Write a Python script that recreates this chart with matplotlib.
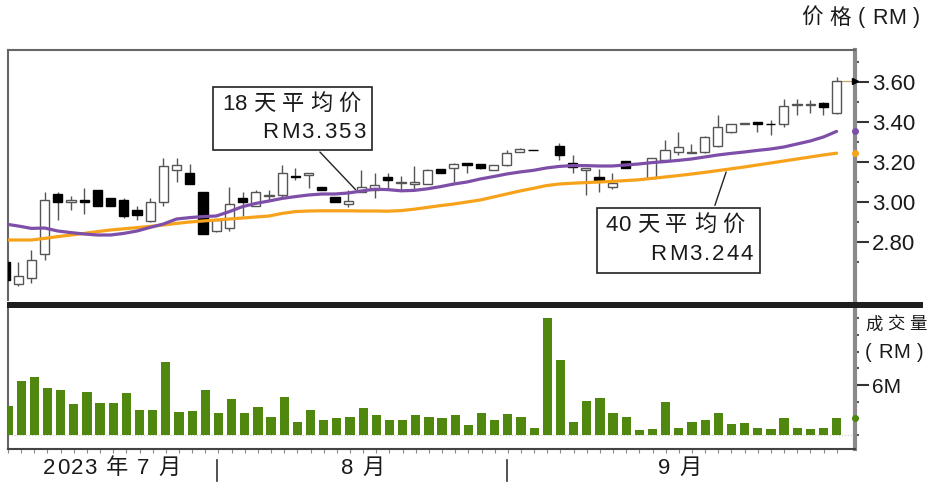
import matplotlib
matplotlib.use('Agg')
import matplotlib.pyplot as plt
import numpy as np
from matplotlib.patches import Rectangle
import matplotlib.transforms as mtransforms

plt.rcParams['font.family'] = ['Liberation Sans', 'Noto Sans CJK SC', 'DejaVu Sans']

nan = float('nan')
# ---------------- data ----------------
opens = [2.70, 2.59, 2.62, 2.74, 3.04, 3.00, 3.01, 3.06, 3.02, 3.01,
         2.96, 2.905, 3.00, 3.16, 3.145, 3.05, 2.855, 2.87, 3.02, 2.98,
         3.03, 3.035, 3.13, 3.135, 3.075, 3.025, 2.99, 3.05, 3.06, 3.125,
         3.095, 3.09, 3.09, 3.165, 3.17, 3.195, 3.19, 3.16, 3.185, 3.25,
         3.262, nan, 3.28, 3.193, 3.16, 3.127, 3.073, 3.207, nan, 3.12,
         3.21, 3.25, 3.245, 3.25, 3.28, 3.35, 3.39, 3.40, 3.392, 3.39,
         3.485, 3.485, 3.495, 3.445]
highs = [2.71, 2.70, 2.76, 3.05, 3.05, 3.03, 3.07, 3.06, 3.02, 3.02,
         2.98, 3.02, 3.22, 3.22, 3.19, 3.05, 2.91, 3.075, 3.05, 3.06,
         3.06, 3.185, 3.17, 3.145, 3.075, 3.025, 3.06, 3.16, 3.145, 3.145,
         3.13, 3.18, 3.165, 3.165, 3.195, 3.195, 3.19, 3.185, 3.26, 3.27,
         3.262, nan, 3.297, 3.235, 3.168, 3.163, 3.143, 3.207, nan, 3.22,
         3.31, 3.35, 3.29, 3.33, 3.435, 3.39, 3.395, 3.40, 3.41, 3.515,
         3.515, 3.51, 3.50, 3.625]
lows = [2.60, 2.58, 2.595, 2.71, 2.91, 2.96, 2.94, 2.98, 2.98, 2.92,
        2.91, 2.90, 2.98, 3.10, 3.09, 2.84, 2.85, 2.855, 2.93, 2.98,
        3.01, 3.025, 3.11, 3.07, 3.06, 3.00, 2.975, 3.05, 3.02, 3.06,
        3.06, 3.06, 3.09, 3.145, 3.10, 3.145, 3.165, 3.16, 3.18, 3.25,
        3.258, nan, 3.21, 3.143, 3.035, 3.05, 3.063, 3.168, nan, 3.12,
        3.21, 3.235, 3.245, 3.245, 3.275, 3.345, 3.39, 3.35, 3.335, 3.375,
        3.435, 3.445, 3.435, 3.44]
closes = [2.61, 2.63, 2.71, 3.01, 3.00, 3.01, 3.00, 2.98, 2.98, 2.93,
          2.935, 3.00, 3.18, 3.185, 3.09, 2.84, 2.91, 2.99, 3.00, 3.05,
          3.035, 3.145, 3.125, 3.145, 3.06, 3.00, 3.005, 3.075, 3.085, 3.11,
          3.10, 3.10, 3.16, 3.145, 3.19, 3.185, 3.17, 3.185, 3.245, 3.265,
          3.258, nan, 3.235, 3.173, 3.168, 3.107, 3.097, 3.168, nan, 3.22,
          3.26, 3.275, 3.25, 3.325, 3.375, 3.39, 3.395, 3.39, 3.388, 3.48,
          3.49, 3.49, 3.475, 3.605]
ma18 = [2.89, 2.88, 2.868, 2.87, 2.855, 2.847, 2.84, 2.835, 2.835, 2.843,
        2.855, 2.873, 2.89, 2.915, 2.922, 2.927, 2.93, 2.952, 2.977, 2.993,
        3.005, 3.018, 3.027, 3.035, 3.04, 3.04, 3.045, 3.055, 3.064, 3.062,
        3.056, 3.058, 3.066, 3.077, 3.09, 3.10, 3.115, 3.127, 3.14, 3.15,
        3.158, 3.17, 3.178, 3.182, 3.182, 3.18, 3.18, 3.185, 3.19, 3.197,
        3.202, 3.208, 3.215, 3.225, 3.235, 3.243, 3.25, 3.258, 3.265, 3.275,
        3.29, 3.305, 3.325, 3.353]
ma40 = [2.81, 2.81, 2.81, 2.818, 2.827, 2.835, 2.843, 2.852, 2.86, 2.866,
        2.872, 2.878, 2.885, 2.893, 2.90, 2.905, 2.91, 2.915, 2.92, 2.925,
        2.93, 2.943, 2.952, 2.955, 2.956, 2.956, 2.956, 2.955, 2.955, 2.954,
        2.957, 2.964, 2.973, 2.982, 2.99, 3.00, 3.01, 3.025, 3.04, 3.055,
        3.068, 3.082, 3.09, 3.094, 3.097, 3.10, 3.103, 3.107, 3.111, 3.118,
        3.125, 3.132, 3.14, 3.148, 3.157, 3.166, 3.175, 3.185, 3.195, 3.205,
        3.215, 3.225, 3.235, 3.244]
volume_m = [3.5, 6.5, 7.0, 5.7, 5.4, 3.7, 5.2, 3.9, 3.9, 5.0,
            3.0, 3.0, 8.8, 2.8, 2.9, 5.4, 2.6, 4.3, 2.6, 3.4,
            2.2, 4.6, 1.6, 3.0, 1.8, 2.0, 2.2, 3.2, 2.4, 1.8,
            1.8, 2.4, 2.2, 2.1, 2.4, 1.2, 2.6, 1.8, 2.5, 2.2,
            0.9, 14.0, 9.0, 1.6, 4.1, 4.4, 2.6, 2.2, 0.6, 0.7,
            4.0, 0.9, 1.6, 1.8, 2.6, 1.3, 1.4, 0.9, 0.7, 2.0,
            0.8, 0.7, 0.9, 2.1]
price_ticks = [2.80, 3.00, 3.20, 3.40, 3.60]
price_tick_labels = ['2.80', '3.00', '3.20', '3.40', '3.60']
month_labels = ['2023 年 7 月', '8 月', '9 月']
month_label_pos = [7.9, 27.0, 51.1]
month_bounds = [16, 38]
ma18_label = ['18 天 平 均 价', 'RM3.353']
ma40_label = ['40 天 平 均 价', 'RM3.244']

# ---------------- figure ----------------
W, H = 932, 491
fig = plt.figure(figsize=(W / 100, H / 100), dpi=100)
fig.patch.set_facecolor('white')
renderer = fig.canvas.get_renderer()

def fx(px):
    return px / W

def fy(py):
    return 1 - py / H

def tracked_text(x_px, y_px, s, size, track, ha='left', zorder=11):
    """Draw text char by char with extra spacing (pixels) between chars."""
    widths = []
    for ch in s:
        if ch == ' ':
            widths.append(0.278 * size * 100 / 72)
        else:
            t = fig.text(0, 0, ch, fontsize=size)
            widths.append(t.get_window_extent(renderer=renderer).width)
            t.remove()
    total = sum(widths) + track * (len(s) - 1)
    if ha == 'right':
        x = x_px - total
    elif ha == 'center':
        x = x_px - total / 2
    else:
        x = x_px
    for ch, w in zip(s, widths):
        if ch != ' ':
            fig.text(fx(x), fy(y_px), ch, fontsize=size, ha='left', va='center',
                     color='#1a1a1a', zorder=zorder)
        x += w + track

L, R = 8, 855
ax = fig.add_axes([fx(L), fy(300), fx(R) - fx(L), fy(50) - fy(300)])
axv = fig.add_axes([fx(L), fy(449), fx(R) - fx(L), fy(308) - fy(449)])

n = len(closes)
idx = np.arange(n)
xlim = ((L - 5) / 13.2, (R - 5) / 13.2)

O = np.array(opens); Hh = np.array(highs); Lo = np.array(lows); C = np.array(closes)
up = C >= O
bw = 0.7
valid = ~np.isnan(C)

# wicks
ax.vlines(idx[valid], Lo[valid], Hh[valid], colors='#555555', linewidth=1.0, zorder=2)
bottoms = np.minimum(O, C)
heights = np.maximum(np.abs(C - O), 0.004)
m_up = valid & up
m_dn = valid & ~up
ax.bar(idx[m_up], heights[m_up], bottom=bottoms[m_up], width=bw,
       facecolor='white', edgecolor='#555555', linewidth=1.0, zorder=3)
ax.bar(idx[m_dn], heights[m_dn], bottom=bottoms[m_dn], width=bw,
       facecolor='black', edgecolor='black', linewidth=1.0, zorder=3)

ax.plot(idx, ma40, color='#f7a21b', lw=2.3, zorder=4, solid_capstyle='round')
ax.plot(idx, ma18, color='#7e4fa9', lw=2.3, zorder=5, solid_capstyle='round')

# last price guide line
ax.plot([n - 1 + bw / 2, xlim[1]], [closes[-1], closes[-1]], color='#c8a46a', lw=0.9, zorder=2)

ax.set_xlim(*xlim)
ax.set_ylim(3.60 - 218 / 200, 3.60 + 32 / 200)
ax.yaxis.tick_right()
ax.set_yticks(price_ticks)
ax.set_yticklabels(price_tick_labels)
ax.set_yticks(np.arange(2.70, 3.75, 0.1), minor=True)
ax.tick_params(axis='y', which='major', length=10, width=1.5, color='#333333',
               labelsize=16, pad=2, labelcolor='#1a1a1a')
ax.tick_params(axis='y', which='minor', length=3, width=1.5, color='#555555')
ax.set_xticks([])
for s in ['left', 'top']:
    ax.spines[s].set_color('#666666'); ax.spines[s].set_linewidth(1.5)
ax.spines['right'].set_color('#8a8a8a'); ax.spines['right'].set_linewidth(3)
ax.spines['bottom'].set_visible(False)

# current value markers on the axis
ax.plot([xlim[1]], [closes[-1]], marker='>', color='black', ms=5, clip_on=False, zorder=6)
ax.plot([xlim[1]], [ma18[-1]], marker='o', color='#7e4fa9', ms=4, clip_on=False, zorder=6)
ax.plot([xlim[1]], [ma40[-1]], marker='o', color='#f7a21b', ms=4, clip_on=False, zorder=6)

# volume
axv.bar(idx, volume_m, width=bw, color='#4f870f', zorder=3)
axv.axhline(0, color='#c8c8c8', lw=0.8, ls=':', zorder=2)
axv.set_xlim(*xlim)
axv.set_ylim(-14 / 8.33, (435 - 308) / 8.33)
axv.yaxis.tick_right()
axv.set_yticks([6])
axv.set_yticklabels(['6M'])
axv.set_yticks([0, 2, 4, 8, 10, 12, 14], minor=True)
axv.tick_params(axis='y', which='major', length=10, width=1.5, color='#333333',
                labelsize=15, pad=2, labelcolor='#1a1a1a')
axv.tick_params(axis='y', which='minor', length=3, width=1.5, color='#555555')
axv.set_xticks(idx)
axv.set_xticklabels([])
axv.tick_params(axis='x', length=3, width=0.8, color='#888888')
axv.spines['left'].set_color('#666666'); axv.spines['left'].set_linewidth(1.5)
axv.spines['right'].set_color('#8a8a8a'); axv.spines['right'].set_linewidth(3)
axv.spines['bottom'].set_color('#444444'); axv.spines['bottom'].set_linewidth(1.5)
axv.spines['top'].set_visible(False)
axv.plot([xlim[1]], [volume_m[-1]], marker='o', color='#4f870f', ms=4, clip_on=False, zorder=6)

# month labels and separators
trans = mtransforms.blended_transform_factory(axv.transData, axv.transAxes)
fig.canvas.draw()
for lab, pos in zip(month_labels, month_label_pos):
    xpix = axv.transData.transform((pos, 0))[0]
    tracked_text(xpix, 468, lab, 16, 1.4, ha='center')
for b in month_bounds:
    axv.plot([b - 0.1, b - 0.1], [-(460 - 449) / 141, -(481 - 449) / 141], transform=trans,
             color='#333333', lw=1.2, clip_on=False)

# thick separator band
fig.add_artist(Rectangle((fx(7), fy(308)), fx(923) - fx(7), fy(302) - fy(308),
                         transform=fig.transFigure, facecolor='#1e1e1e', edgecolor='none'))

# titles on right
tracked_text(920, 18, '价 格 ( RM )', 15.5, 0.5, ha='right')
tracked_text(865, 325, '成 交 量', 12.5, 0.0, ha='left')
tracked_text(865, 352, '( RM )', 14.5, 0.5, ha='left')

# annotation boxes
def box(x0, y0, x1, y1, lines):
    fig.add_artist(Rectangle((fx(x0), fy(y1)), fx(x1) - fx(x0), fy(y0) - fy(y1),
                             transform=fig.transFigure, facecolor='white',
                             edgecolor='#222222', linewidth=1.2, zorder=10))
    tracked_text(x0 + 9, y0 + 17, lines[0], 16, 0.0, ha='left')
    tracked_text(x1 - 7, y0 + 46, lines[1], 16, 2.0, ha='right')

box(213, 87, 372, 150, ma18_label)
box(597, 208, 760, 273, ma40_label)

p1 = 26.7
ax.annotate('', xy=(p1, np.interp(p1, idx, ma18)), xycoords='data',
            xytext=(fx(318), fy(150)), textcoords='figure fraction',
            arrowprops=dict(arrowstyle='-', color='#222222', lw=1.0), zorder=9)
p2 = 54.7
ax.annotate('', xy=(p2, np.interp(p2, idx, ma40)), xycoords='data',
            xytext=(fx(714), fy(208)), textcoords='figure fraction',
            arrowprops=dict(arrowstyle='-', color='#222222', lw=1.0), zorder=9)

fig.savefig('out.png', dpi=100, facecolor='white')
